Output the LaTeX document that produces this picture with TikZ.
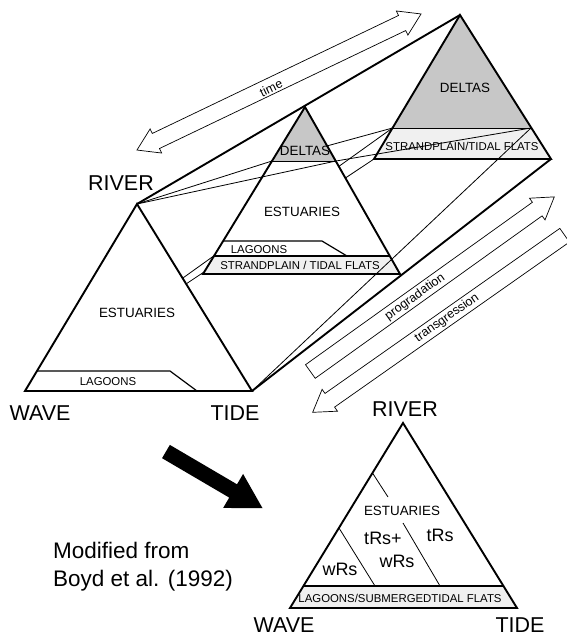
\documentclass[tikz,border=0pt]{standalone}
\usepackage{fontspec}
\setmainfont{Liberation Sans}
\usetikzlibrary{shapes.arrows}

\begin{document}
\begin{tikzpicture}[x=1pt,y=-1pt,
  edge/.style={line width=1.9pt,line join=miter},
  fine/.style={line width=0.8pt},
  band/.style={line width=1.2pt},
  big/.style={font=\fontsize{21.5}{24}\selectfont,inner sep=0pt},
  mid/.style={font=\fontsize{13.4}{15}\selectfont,inner sep=0pt},
  small/.style={font=\fontsize{11.4}{13}\selectfont,inner sep=0pt},
  hollow/.style={draw,line width=0.7pt,inner ysep=8pt,inner xsep=0pt},
  along/.style={font=\fontsize{12.5}{14}\selectfont,inner sep=0pt}]
\useasboundingbox (0,0) rectangle (567,637);

% corners of the three sections
\coordinate (r1) at (137,204);
\coordinate (w1) at (25,391);
\coordinate (t1) at (252,391);
\coordinate (r2) at (305,107);
\coordinate (w2) at (203,274);
\coordinate (t2) at (400,274);
\coordinate (r3) at (460,15);
\coordinate (w3) at (374,159);
\coordinate (t3) at (551,159);
\coordinate (d2l) at (272,161);
\coordinate (d2r) at (336,161);
\coordinate (s2l) at (214,256);
\coordinate (s2r) at (390,256);
\coordinate (d3l) at (392.5,128);
\coordinate (d3r) at (531,128);

% lines behind the front sections
\draw[fine] (w1) -- (w3);
\draw[fine] (w1) -- (d3l);
\draw[fine] (d2l) -- (d3l);

% back section
\fill[black!22] (r3) -- (d3l) -- (d3r) -- cycle;
\fill[black!6] (d3l) -- (w3) -- (t3) -- (d3r) -- cycle;
\draw[fine] (d3l) -- (d3r);
\draw[edge] (r3) -- (w3) -- (t3) -- cycle;
\node[mid] (del3) at (465,88) {DELTAS};
\node[small] (str3) at (462,146) {STRANDPLAIN/TIDAL FLATS};

% middle section
\fill[white] (r2) -- (w2) -- (t2) -- cycle;
\fill[black!22] (r2) -- (d2l) -- (d2r) -- cycle;
\fill[black!6] (s2l) -- (w2) -- (t2) -- (s2r) -- cycle;
\draw[fine] (d2l) -- (d2r);
\draw[band] (223,241) -- (322,241) -- (347,256);
\draw[band] (s2l) -- (s2r);
\draw[edge] (r2) -- (w2) -- (t2) -- cycle;
\node[mid] (del2) at (305,151) {DELTAS};
\node[mid] (est2) at (302,212) {ESTUARIES};
\node[small] (lag2) at (259,250) {LAGOONS};
\node[small] (str2) at (300,265) {STRANDPLAIN / TIDAL FLATS};

% lines in front
\draw[fine] (r1) -- (d2l);
\draw[fine] (r1) -- (d2r) -- (d3r);
\draw[fine] (t1) -- (d3r);

% front section
\fill[white] (r1) -- (w1) -- (t1) -- cycle;
\draw[band] (37,371) -- (170,371) -- (197,391);
\draw[edge] (r1) -- (w1) -- (t1) -- cycle;
\node[mid] (est1) at (137,313) {ESTUARIES};
\node[small] (lag1) at (108,382) {LAGOONS};
\draw[edge] (r1) -- (r3);
\draw[edge] (t1) -- (t3);

\node[big] (riv1) at (121,183) {RIVER};
\node[big] (wav1) at (40,413) {WAVE};
\node[big] (tid1) at (235,413) {TIDE};

% arrows
\node[hollow,double arrow,double arrow head extend=5pt,double arrow tip angle=65,
  minimum height=315pt,rotate=25.6] (time) at (279,82) {};
\node[along,rotate=25.6] (timelab) at (271,88) {time};
\node[hollow,single arrow,single arrow head extend=5pt,single arrow tip angle=65,
  minimum height=300pt,rotate=35.6] (prog) at (427,288) {};
\node[along,rotate=35.6] (proglab) at (415,297) {progradation};
\node[hollow,single arrow,shape border rotate=180,single arrow head extend=5pt,
  single arrow tip angle=65,minimum height=308pt,rotate=35.1] (trans) at (444,320) {};
\node[along,rotate=35.1] (translab) at (447,318) {transgression};
\node[single arrow,fill=black,minimum height=112pt,inner ysep=7.5pt,inner xsep=0pt,
  single arrow head extend=12pt,single arrow tip angle=60,rotate=-30.4] (push) at (208.5,476.5) {};

% summary triangle
\coordinate (rb) at (403,423);
\coordinate (wb) at (290,608);
\coordinate (tb) at (517,608);
\coordinate (bl) at (303.4,586);
\coordinate (br) at (503.4,586);
\fill[black!6] (bl) -- (wb) -- (tb) -- (br) -- cycle;
\draw[band] (bl) -- (br);
\draw[fine] (339,528) -- (375,586);
\draw[fine] (403,523) -- (440,586);
\draw[fine] (372.5,473) -- (388,497);
\draw[edge] (rb) -- (wb) -- (tb) -- cycle;
\node[mid] (est4) at (402,511) {ESTUARIES};
\node[font=\fontsize{18}{20}\selectfont,inner sep=0pt] (trw) at (383,538) {tRs+};
\node[font=\fontsize{18}{20}\selectfont,inner sep=0pt] (wr2) at (397,561) {wRs};
\node[font=\fontsize{18}{20}\selectfont,inner sep=0pt] (tr) at (440,535) {tRs};
\node[font=\fontsize{18}{20}\selectfont,inner sep=0pt] (wr) at (340,569) {wRs};
\node[small] (lag4) at (400,598) {LAGOONS/SUBMERGEDTIDAL FLATS};
\node[big] (riv4) at (405,409) {RIVER};
\node[big] (wav4) at (284,625) {WAVE};
\node[big] (tid4) at (520,625) {TIDE};

\node[anchor=west,align=left,font=\fontsize{22.5}{28}\selectfont,inner sep=0pt] (note) at (53,567) {Modified from\\Boyd et al. (1992)};
\end{tikzpicture}
\end{document}
